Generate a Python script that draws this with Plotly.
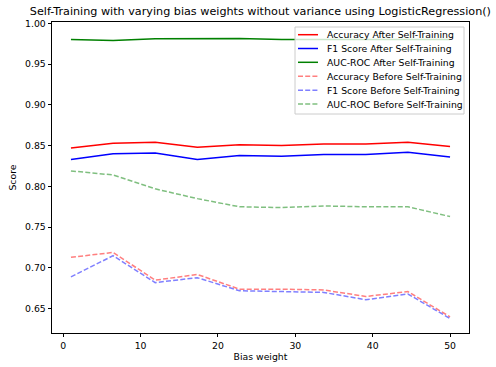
import numpy as np
import plotly.graph_objects as go

bias_weights = [1.0, 6.444, 11.889, 17.333, 22.778, 28.222, 33.667, 39.111, 44.556, 50.0]

acc_after = [0.847, 0.853, 0.854, 0.848, 0.851, 0.850, 0.852, 0.852, 0.854, 0.849]
f1_after = [0.833, 0.840, 0.841, 0.833, 0.838, 0.837, 0.839, 0.839, 0.842, 0.836]
auc_after = [0.980, 0.979, 0.981, 0.9815, 0.9815, 0.980, 0.980, 0.980, 0.980, 0.980]
acc_before = [0.713, 0.719, 0.685, 0.692, 0.674, 0.674, 0.673, 0.665, 0.671, 0.640]
f1_before = [0.689, 0.715, 0.682, 0.688, 0.672, 0.671, 0.670, 0.661, 0.668, 0.638]
auc_before = [0.819, 0.814, 0.797, 0.785, 0.775, 0.774, 0.776, 0.775, 0.775, 0.763]

y_ticks = [0.65, 0.70, 0.75, 0.80, 0.85, 0.90, 0.95, 1.00]
x_ticks = [0, 10, 20, 30, 40, 50]

FONT = "DejaVu Sans"
FS = 9.3
DASH = "5px,2.2px"

series = [
    ("Accuracy After Self-Training", acc_after, "rgb(255,0,0)", "solid"),
    ("F1 Score After Self-Training", f1_after, "rgb(0,0,255)", "solid"),
    ("AUC-ROC After Self-Training", auc_after, "rgb(0,128,0)", "solid"),
    ("Accuracy Before Self-Training", acc_before, "rgba(255,0,0,0.5)", DASH),
    ("F1 Score Before Self-Training", f1_before, "rgba(0,0,255,0.5)", DASH),
    ("AUC-ROC Before Self-Training", auc_before, "rgba(0,128,0,0.5)", DASH),
]

fig = go.Figure()
for name, vals, color, dash in series:
    fig.add_trace(go.Scatter(
        x=bias_weights, y=vals, mode="lines", name=name,
        line=dict(color=color, width=1.5, dash=dash),
        showlegend=False,
    ))

# plot area in pixels
L, R, T, B = 52, 469, 22, 333
W, H = 496, 367
def px(xp):
    return (xp - L) / (R - L)
def py(yp):
    return (B - yp) / (B - T)

# legend box (matplotlib-style, drawn manually for compact spacing)
shapes = [dict(
    type="rect", xref="paper", yref="paper",
    x0=px(295), x1=px(464), y0=py(114), y1=py(27),
    fillcolor="rgba(255,255,255,0.8)", line=dict(color="#cccccc", width=1),
    layer="above",
)]
annotations = []
row_y = [34.7, 48.5, 62.3, 76.2, 90.2, 104.0]
for (name, vals, color, dash), yy in zip(series, row_y):
    shapes.append(dict(
        type="line", xref="paper", yref="paper",
        x0=px(298), x1=px(318), y0=py(yy), y1=py(yy),
        line=dict(color=color, width=1.5, dash=dash), layer="above",
    ))
    annotations.append(dict(
        text=name, xref="paper", yref="paper", x=px(325), y=py(yy),
        xanchor="left", yanchor="middle", showarrow=False,
        font=dict(family=FONT, size=FS, color="black"),
    ))

axis_common = dict(
    showline=True, linecolor="black", linewidth=0.8, mirror=True,
    showgrid=False, zeroline=False, automargin=False,
    ticks="outside", ticklen=3.5, tickwidth=0.8, tickcolor="black",
    tickfont=dict(family=FONT, size=FS, color="black"),
)

fig.update_layout(
    width=W, height=H,
    margin=dict(l=L, r=W - R, t=T, b=H - B),
    paper_bgcolor="white", plot_bgcolor="white",
    title=dict(
        text="Self-Training with varying bias weights without variance using LogisticRegression()",
        font=dict(family=FONT, size=11.2, color="black"),
        x=0.525, xanchor="center", y=1 - 11.5 / H, yanchor="middle",
    ),
    xaxis=dict(
        range=[-1.45, 52.45], tickvals=x_ticks, ticklabelstandoff=0,
        title=dict(text="Bias weight", font=dict(family=FONT, size=FS, color="black"), standoff=3),
        **axis_common,
    ),
    yaxis=dict(
        range=[0.6202, 1.0016], tickvals=y_ticks, tickformat=".2f",
        title=dict(text="Score", font=dict(family=FONT, size=FS, color="black"), standoff=6),
        **axis_common,
    ),
    shapes=shapes,
    annotations=annotations,
    showlegend=False,
)

fig.write_html("out.html")
